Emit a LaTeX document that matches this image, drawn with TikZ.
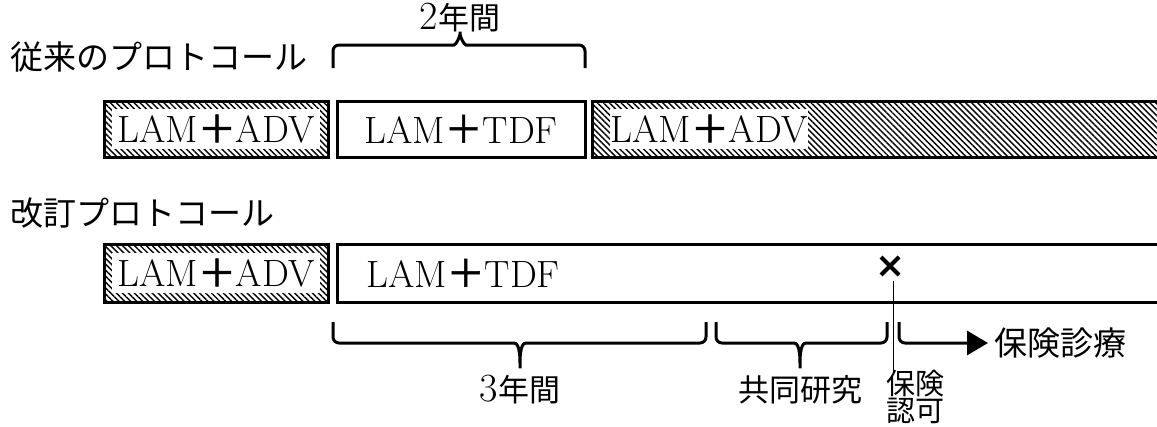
\documentclass[tikz,border=0pt]{standalone}
\usepackage{fontspec}
\newfontfamily\cjk{Noto Sans CJK JP}
\newfontfamily\cjkplus[FakeBold=1.2]{Noto Sans CJK JP}
\newfontfamily\lmr{Latin Modern Roman}
\usetikzlibrary{patterns.meta,arrows.meta}
\newcommand{\plusmark}{{\cjkplus ＋}}
\newcommand{\dig}[1]{{\lmr\fontsize{40}{40}\selectfont #1}}
\begin{document}
\begin{tikzpicture}[x=1pt,y=-1pt,
  lat/.style={font=\lmr\fontsize{38}{42}\selectfont, inner sep=0pt},
  jp/.style={font=\fontsize{31}{34}\selectfont\cjk, inner sep=0pt},
  jps/.style={font=\fontsize{29}{32}\selectfont\cjk, inner sep=0pt},
  jpl/.style={font=\fontsize{33}{36}\selectfont\cjk, inner sep=0pt},
  hatch/.style={pattern={Lines[angle=-45,distance=4.2pt,line width=1.4pt]}},
  frame/.style={line width=3pt},
  brace/.style={line width=3pt,rounded corners=6pt},
  whitebg/.style={lat, fill=white, minimum height=40pt},
]
\useasboundingbox (0,0) rectangle (1157,426);

% --- labels
\node[jpl, anchor=west] (lab1) at (10,57) {従来のプロトコール};
\node[jpl, anchor=west] (lab2) at (10,213) {改訂プロトコール};
\node[jp] (y2) at (460,18) {\dig{2}年間};

% --- top brace
\draw[brace] (333,68) -- (333,45) -- (448,45) to[out=0,in=-90] (460,28) to[out=-90,in=180] (472,45) -- (585,45) -- (585,68);

% --- row 1
\path[hatch] (104,101) rectangle (328,157);
\draw[frame] (104,101) rectangle (328,157);
\node[whitebg, minimum width=208pt] (r1a) at (216,129) {LAM\plusmark ADV};

\draw[frame] (337,101) rectangle (585,157);
\node[lat] (r1b) at (461,129) {LAM\plusmark TDF};

\path[hatch] (592,101) rectangle (1160,157);
\draw[frame] (1160,101) -- (592,101) -- (592,157) -- (1160,157);
\node[whitebg, minimum width=196pt] (r1c) at (709,129) {LAM\plusmark ADV};

% --- row 2
\path[hatch] (104,244) rectangle (328,302);
\draw[frame] (104,244) rectangle (328,302);
\node[whitebg, minimum width=208pt] (r2a) at (216,273) {LAM\plusmark ADV};

\draw[frame] (1160,244) -- (337,244) -- (337,302) -- (1160,302);
\node[lat, anchor=west] (r2b) at (366,273) {LAM\plusmark TDF};

% --- cross mark and permission line
\coordinate (xm) at (890,266);
\draw[line width=4pt] ([shift={(-9,-9)}]xm) -- ([shift={(9,9)}]xm);
\draw[line width=4pt] ([shift={(-9,9)}]xm) -- ([shift={(9,-9)}]xm);
\coordinate (vt) at (893,281);
\coordinate (vb) at (893,372);
\draw[line width=0.8pt] (vt) -- (vb);

% --- bottom braces
\draw[brace] (333,322) -- (333,343) -- (508,343) to[out=0,in=90] (520,372) to[out=90,in=180] (532,343) -- (706,343) -- (706,322);
\draw[brace] (716,322) -- (716,343) -- (788,343) to[out=0,in=90] (800,372) to[out=90,in=180] (812,343) -- (887,343) -- (887,322);
\coordinate (hs) at (899,322);
\coordinate (he) at (988,343);
\draw[brace, -{Triangle[length=21pt,width=24pt]}] (hs) -- (899,343) -- (he);

% --- bottom labels
\node[jpl, anchor=west] (ins) at (994,343) {保険診療};
\node[jp] (y3) at (520,390) {\dig{3}年間};
\node[jp] (kyo) at (800,390) {共同研究};
\node[jps, anchor=west] (hk1) at (886,384) {保険};
\node[jps, anchor=west] (hk2) at (886,411) {認可};
\end{tikzpicture}
\end{document}
